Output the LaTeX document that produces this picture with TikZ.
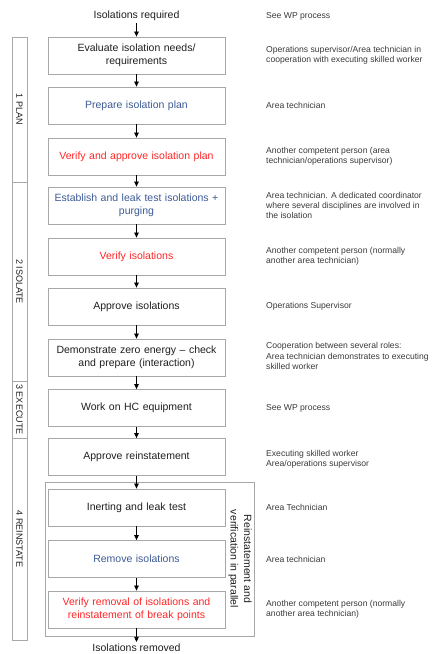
\documentclass[tikz,border=0pt]{standalone}
\usepackage{fontspec}
\setmainfont{Liberation Sans}
\usetikzlibrary{arrows.meta}
\definecolor{boxgray}{HTML}{A8A8A8}
\definecolor{planblue}{HTML}{3C5A96}
\definecolor{checkred}{HTML}{FF2424}
\definecolor{txtdark}{HTML}{1E1E1E}
\definecolor{roledark}{HTML}{3A3A3A}
\begin{document}
\begin{tikzpicture}[x=1pt,y=-1pt,
  stepbox/.style={draw=boxgray, line width=0.8pt, minimum width=177pt, minimum height=37pt, inner sep=2pt, align=center, text width=170pt, font=\fontsize{10.5}{12.5}\selectfont, text=txtdark},
  endtxt/.style={font=\fontsize{10.5}{12.5}\selectfont, text=txtdark, inner sep=2pt},
  role/.style={anchor=west, align=left, font=\fontsize{8.6}{10.3}\selectfont, text=roledark, inner sep=0pt},
  phase/.style={draw=boxgray, line width=0.8pt},
  phasetxt/.style={rotate=-90, font=\fontsize{9}{10}\selectfont, text=txtdark, inner sep=0pt},
  flow/.style={-{Triangle[length=5pt,width=4.5pt]}, line width=0.7pt, black},
]
\useasboundingbox (0,0) rectangle (434,654);

% phases
\draw[phase] (12,37) rectangle (27,182);
\draw[phase] (12,182) rectangle (27,381);
\draw[phase] (12,381) rectangle (27,438);
\draw[phase] (12,438) rectangle (27,640);
\node[phasetxt] (p1) at (19.5,109.5) {1 PLAN};
\node[phasetxt] (p2) at (19.5,281.5) {2 ISOLATE};
\node[phasetxt] (p3) at (19.5,409.5) {3 EXECUTE};
\node[phasetxt] (p4) at (19.5,539) {4 REINSTATE};

% parallel frame
\draw[phase] (45,482) rectangle (254,636);
\node[rotate=-90, align=center, font=\fontsize{10.5}{13.5}\selectfont, text=txtdark, inner sep=0pt] (par) at (240,559) {Reinstatement and\\verification in parallel};

% steps
\node[endtxt] (start) at (136.5,16) {Isolations required};
\node[stepbox] (b1) at (136.5,55.5) {Evaluate isolation needs/\\requirements};
\node[stepbox, text=planblue] (b2) at (136.5,105.5) {Prepare isolation plan};
\node[stepbox, text=checkred] (b3) at (136.5,156.5) {Verify and approve isolation plan};
\node[stepbox, text=planblue] (b4) at (136.5,205.5) {Establish and leak test isolations +\\purging};
\node[stepbox, text=checkred] (b5) at (136.5,256.5) {Verify isolations};
\node[stepbox] (b6) at (136.5,306.5) {Approve isolations};
\node[stepbox] (b7) at (136.5,357.5) {Demonstrate zero energy -- check\\and prepare (interaction)};
\node[stepbox] (b8) at (136.5,408) {Work on HC equipment};
\node[stepbox] (b9) at (136.5,457) {Approve reinstatement};
\node[stepbox] (b10) at (136.5,507.5) {Inerting and leak test};
\node[stepbox, text=planblue] (b11) at (136.5,559) {Remove isolations};
\node[stepbox, text=checkred] (b12) at (136.5,609.5) {Verify removal of isolations and\\reinstatement of break points};
\node[endtxt] (stop) at (136.5,648) {Isolations removed};

\draw[flow] (start) -- (b1);
\draw[flow] (b1) -- (b2);
\draw[flow] (b2) -- (b3);
\draw[flow] (b3) -- (b4);
\draw[flow] (b4) -- (b5);
\draw[flow] (b5) -- (b6);
\draw[flow] (b6) -- (b7);
\draw[flow] (b7) -- (b8);
\draw[flow] (b8) -- (b9);
\draw[flow] (b9) -- (b10);
\draw[flow] (b10) -- (b11);
\draw[flow] (b11) -- (b12);
\draw[flow] (b12) -- (stop);

% roles
\node[role] (r0) at (266,16) {See WP process};
\node[role] (r1) at (266,55.5) {Operations supervisor/Area technician in\\cooperation with executing skilled worker};
\node[role] (r2) at (266,105.5) {Area technician};
\node[role] (r3) at (266,156.5) {Another competent person (area\\technician/operations supervisor)};
\node[role] (r4) at (266,205.5) {Area technician.  A dedicated coordinator\\where several disciplines are involved in\\the isolation};
\node[role] (r5) at (266,256.5) {Another competent person (normally\\another area technician)};
\node[role] (r6) at (266,306.5) {Operations Supervisor};
\node[role] (r7) at (266,356) {Cooperation between several roles:\\Area technician demonstrates to executing\\skilled worker};
\node[role] (r8) at (266,408) {See WP process};
\node[role] (r9) at (266,459) {Executing skilled worker\\Area/operations supervisor};
\node[role] (r10) at (266,507.5) {Area Technician};
\node[role] (r11) at (266,559) {Area technician};
\node[role] (r12) at (266,609) {Another competent person (normally\\another area technician)};
\end{tikzpicture}
\end{document}
